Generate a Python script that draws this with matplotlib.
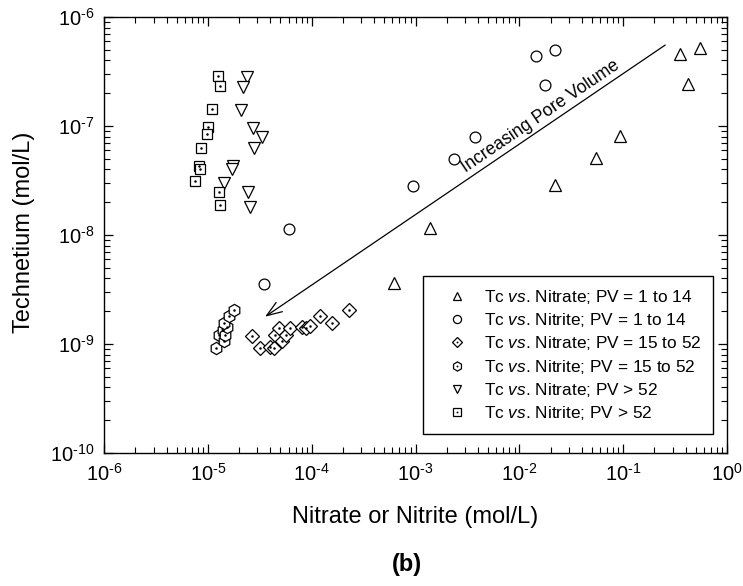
import numpy as np
import matplotlib
matplotlib.use('Agg')
import matplotlib.pyplot as plt
from matplotlib.legend_handler import HandlerTuple

plt.rcParams['font.family'] = ['Liberation Sans', 'DejaVu Sans']
plt.rcParams['mathtext.fontset'] = 'custom'
plt.rcParams['mathtext.rm'] = 'Liberation Sans'
plt.rcParams['mathtext.it'] = 'Liberation Sans:italic'
plt.rcParams['mathtext.bf'] = 'Liberation Sans:bold'

# Tc vs. Nitrate, PV = 1 to 14
no3_pv1_x = [6.2e-4, 1.39e-3, 2.23e-2, 5.5e-2, 9.35e-2, 0.356, 0.419, 0.552]
no3_pv1_y = [3.63e-9, 1.15e-8, 2.86e-8, 5.1e-8, 8.1e-8, 4.55e-7, 2.44e-7, 5.2e-7]

# Tc vs. Nitrite, PV = 1 to 14
no2_pv1_x = [3.47e-5, 6.0e-5, 9.4e-4, 2.36e-3, 3.72e-3, 1.45e-2, 1.75e-2, 2.2e-2]
no2_pv1_y = [3.57e-9, 1.13e-8, 2.8e-8, 4.94e-8, 7.9e-8, 4.4e-7, 2.38e-7, 5.0e-7]

# Tc vs. Nitrate, PV = 15 to 52
no3_pv15_x = [2.67e-5, 3.18e-5, 3.97e-5, 4.35e-5, 4.43e-5, 4.85e-5, 5.19e-5, 5.67e-5,
              6.2e-5, 8.1e-5, 8.8e-5, 9.65e-5, 1.21e-4, 1.57e-4, 2.29e-4]
no3_pv15_y = [1.18e-9, 9.2e-10, 9.4e-10, 9.2e-10, 1.21e-9, 1.40e-9, 1.07e-9, 1.21e-9,
              1.40e-9, 1.43e-9, 1.40e-9, 1.46e-9, 1.81e-9, 1.56e-9, 2.05e-9]

# Tc vs. Nitrite, PV = 15 to 52
no2_pv15_x = [1.20e-5, 1.28e-5, 1.43e-5, 1.40e-5, 1.47e-5, 1.53e-5, 1.43e-5, 1.60e-5, 1.79e-5]
no2_pv15_y = [9.2e-10, 1.21e-9, 1.07e-9, 1.34e-9, 1.21e-9, 1.43e-9, 1.56e-9, 1.81e-9, 2.05e-9]

# Tc vs. Nitrate, PV > 52
no3_pv52_x = [2.37e-5, 2.20e-5, 2.07e-5, 2.74e-5, 3.33e-5, 2.79e-5, 1.74e-5, 1.70e-5,
              1.44e-5, 2.45e-5, 2.55e-5]
no3_pv52_y = [2.80e-7, 2.30e-7, 1.40e-7, 9.5e-8, 7.98e-8, 6.3e-8, 4.33e-8, 4.06e-8,
              3.02e-8, 2.49e-8, 1.82e-8]

# Tc vs. Nitrite, PV > 52
no2_pv52_x = [1.245e-5, 1.31e-5, 1.09e-5, 1.01e-5, 9.76e-6, 8.55e-6, 8.28e-6, 8.41e-6,
              7.54e-6, 1.28e-5, 1.31e-5]
no2_pv52_y = [2.87e-7, 2.33e-7, 1.42e-7, 9.7e-8, 8.4e-8, 6.3e-8, 4.33e-8, 4.06e-8,
              3.13e-8, 2.49e-8, 1.88e-8]

labels = [r'Tc $\mathit{vs}$. Nitrate; PV = 1 to 14',
          r'Tc $\mathit{vs}$. Nitrite; PV = 1 to 14',
          r'Tc $\mathit{vs}$. Nitrate; PV = 15 to 52',
          r'Tc $\mathit{vs}$. Nitrite; PV = 15 to 52',
          r'Tc $\mathit{vs}$. Nitrate; PV > 52',
          r'Tc $\mathit{vs}$. Nitrite; PV > 52']

x_exps = [-6, -5, -4, -3, -2, -1, 0]
y_exps = [-10, -9, -8, -7, -6]

arrow_tail = (0.254, 5.53e-7)
arrow_head = (3.56e-5, 1.78e-9)


def pow_label(k):
    # plain hyphen in the exponent, as in the original figure
    s = str(k).replace('-', r'\text{-}')
    return r'$\mathregular{10^{%s}}$' % s


fig = plt.figure(figsize=(7.43, 5.86), dpi=100)
ax = fig.add_axes([104 / 743, 1 - 453 / 586, 623 / 743, 436 / 586])
ax.set_xscale('log')
ax.set_yscale('log')
ax.set_xlim(1e-6, 1)
ax.set_ylim(1e-10, 1e-6)

# x, y, marker, size, dotted centre
series = [
    (no3_pv1_x, no3_pv1_y, '^', 8.5, False),
    (no2_pv1_x, no2_pv1_y, 'o', 7.8, False),
    (no3_pv15_x, no3_pv15_y, 'D', 6.8, True),
    (no2_pv15_x, no2_pv15_y, 'h', 8.8, True),
    (no3_pv52_x, no3_pv52_y, 'v', 8.5, False),
    (no2_pv52_x, no2_pv52_y, 's', 7.2, True),
]
handles = []
for x, y, m, ms, dot in series:
    h, = ax.plot(x, y, ls='none', marker=m, ms=ms, mfc='white', mec='black', mew=0.9)
    if dot:
        d, = ax.plot(x, y, ls='none', marker='o', ms=1.8, mfc='black', mec='black', mew=0)
        handles.append((h, d))
    else:
        handles.append(h)

ax.annotate('', xy=arrow_head, xytext=arrow_tail,
            arrowprops=dict(arrowstyle='->,head_length=1.1,head_width=0.4',
                            lw=0.9, color='black', shrinkA=0, shrinkB=0,
                            mutation_scale=10))

# label along the arrow
lt = np.log10(arrow_tail)
lh = np.log10(arrow_head)
pos = 10 ** (lt + 0.30 * (lh - lt))
p0 = ax.transData.transform(arrow_tail)
p1 = ax.transData.transform(arrow_head)
angle = np.degrees(np.arctan2(p0[1] - p1[1], p0[0] - p1[0]))
ax.annotate('Increasing Pore Volume', xy=pos, xytext=(0, 2.5), textcoords='offset points',
            rotation=angle, rotation_mode='anchor', ha='center', va='bottom',
            fontsize=12.7)

ax.tick_params(which='both', direction='in', top=True, right=True, labelsize=14.5)
ax.tick_params(which='major', length=6.5, width=0.9, pad=7)
ax.tick_params(which='minor', length=4, width=0.8)
ax.set_xticks([10.0 ** k for k in x_exps])
ax.set_xticklabels([pow_label(k) for k in x_exps])
ax.set_yticks([10.0 ** k for k in y_exps])
ax.set_yticklabels([pow_label(k) for k in y_exps])
for s in ax.spines.values():
    s.set_linewidth(1.0)

ax.set_xlabel('Nitrate or Nitrite (mol/L)', fontsize=17)
ax.xaxis.set_label_coords(0.5, -0.147)
ax.xaxis.label.set_va('center')
ax.set_ylabel('Technetium (mol/L)', fontsize=17)
ax.yaxis.set_label_coords(-0.128, 0.507)
ax.yaxis.label.set_va('center')

leg = ax.legend(handles, labels, loc='lower left', bbox_to_anchor=(0.512, 0.0436, 0.4655, 0.367),
                mode='expand', borderaxespad=0, fontsize=12.4, frameon=True, fancybox=False,
                edgecolor='black', framealpha=1, borderpad=0.7, labelspacing=0.3,
                handlelength=2.6, handletextpad=0.25, markerscale=0.75,
                handler_map={tuple: HandlerTuple(ndivide=1, pad=0)})
leg.get_frame().set_linewidth(1.0)

fig.text(407 / 743, 1 - 565 / 586, '(b)', ha='center', va='center', fontsize=17,
         fontweight='bold')

fig.savefig('out.png', dpi=100)
